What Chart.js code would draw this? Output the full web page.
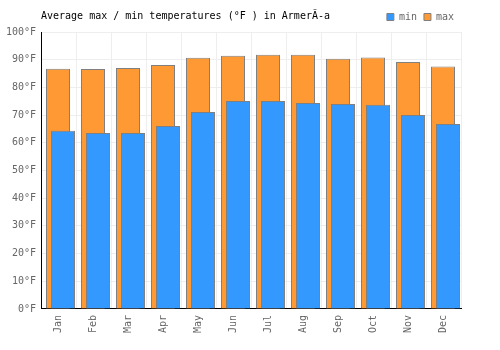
<!DOCTYPE html>
<html>
<head>
<meta charset="utf-8">
<script src="https://cdn.jsdelivr.net/npm/chart.js@4/dist/chart.umd.min.js"></script>
<style>
  html, body { margin: 0; padding: 0; background: #fff; }
  #wrap { width: 500px; height: 350px; }
</style>
</head>
<body>
<div id="wrap"><canvas id="chart" width="500" height="350"></canvas></div>
<script>
// data
var months = ['Jan', 'Feb', 'Mar', 'Apr', 'May', 'Jun', 'Jul', 'Aug', 'Sep', 'Oct', 'Nov', 'Dec'];
var maxTemps = [86.7, 86.6, 87.0, 88.1, 90.7, 91.4, 91.8, 91.8, 90.3, 90.8, 89.2, 87.5];
var minTemps = [64.3, 63.5, 63.5, 66.1, 71.1, 75.1, 75.1, 74.4, 74.0, 73.7, 70.0, 66.8];
var yTicks = [0, 10, 20, 30, 40, 50, 60, 70, 80, 90, 100];

var monoFont = { family: 'DejaVu Sans Mono', size: 10, weight: 'normal' };
Chart.defaults.font.family = 'DejaVu Sans Mono';
Chart.defaults.font.size = 10;
Chart.defaults.color = '#666';

var ctx = document.getElementById('chart').getContext('2d');
// min is drawn on top, so it gets the first slot; negative percentages
// flip the slots so min sits right of centre and max a bit left of it
var chart = new Chart(ctx, {
    type: 'bar',
    data: {
        labels: months,
        datasets: [
            {
                label: 'min',
                data: minTemps,
                backgroundColor: 'rgb(51,153,255)',
                borderColor: 'rgb(128,128,128)',
                borderWidth: 1,
                inflateAmount: 0,
                categoryPercentage: -0.5143,
                barPercentage: -2.6667
            },
            {
                label: 'max',
                data: maxTemps,
                backgroundColor: 'rgb(255,153,51)',
                borderColor: 'rgb(128,128,128)',
                borderWidth: 1,
                inflateAmount: 0,
                categoryPercentage: -0.05714,
                barPercentage: -24
            }
        ]
    },
    options: {
        responsive: false,
        animation: false,
        layout: { padding: { left: 1, right: 39, top: 5, bottom: 11 } },
        plugins: {
            title: {
                display: true,
                text: 'Average max / min temperatures (°F ) in ArmerÃ-a',
                align: 'start',
                fullSize: false,
                color: '#000',
                font: monoFont,
                padding: { top: 5, bottom: -17 }
            },
            legend: {
                position: 'top',
                align: 'end',
                fullSize: false,
                labels: {
                    boxWidth: 7,
                    boxHeight: 7,
                    padding: 7,
                    color: '#666',
                    font: monoFont
                }
            },
            tooltip: { enabled: false }
        },
        scales: {
            x: {
                grid: { color: '#eeeeee', drawTicks: false },
                border: { color: '#000', width: 1 },
                ticks: { minRotation: 90, maxRotation: 90, padding: 6, font: monoFont, color: '#666' }
            },
            y: {
                min: 0,
                max: 100,
                afterBuildTicks: function (axis) {
                    axis.ticks = yTicks.map(function (v) { return { value: v }; });
                },
                afterFit: function (axis) {
                    axis.width = 40;
                },
                grid: { color: '#eeeeee', drawTicks: false },
                border: { color: '#000', width: 1 },
                ticks: {
                    padding: 5,
                    font: monoFont,
                    color: '#666',
                    callback: function (v) { return v + '°F'; }
                }
            }
        }
    }
});
</script>
</body>
</html>
